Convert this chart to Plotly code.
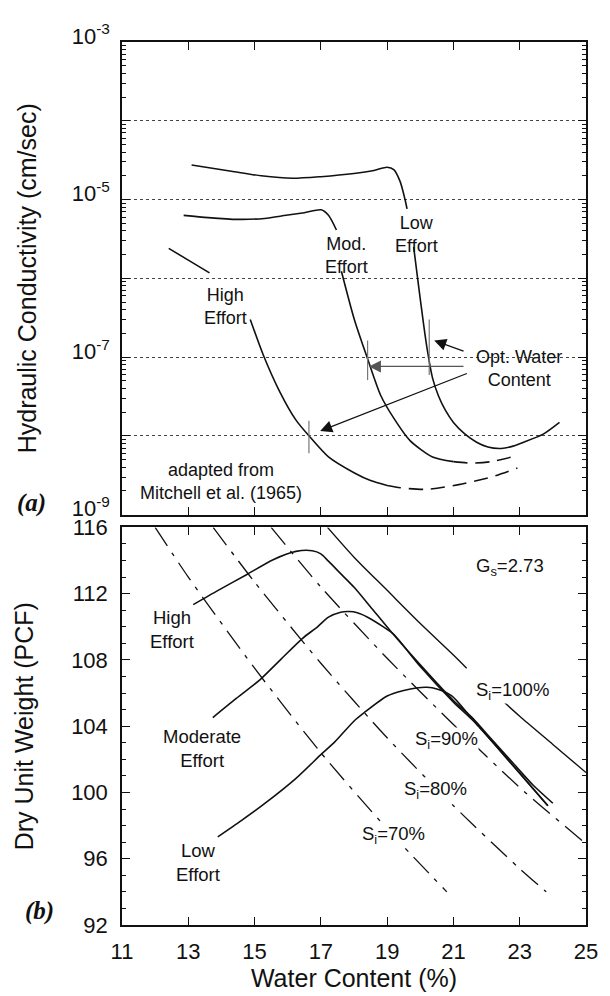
import numpy as np
import plotly.graph_objects as go

# ---------------- (a) Hydraulic conductivity (cm/sec) vs water content (%) ----------------
low_k_w = [13.1, 14.3, 15.2, 16.15, 17.0, 18.0, 18.6, 19.0, 19.2, 19.39, 19.54, 19.6, None,
           19.8, 19.95, 20.1, 20.22, 20.37, 20.55, 20.76, 21.0, 21.35, 21.7, 22.04, 22.44, 22.8,
           23.12, 23.71, 24.2]
low_k = [2.75e-5, 2.29e-5, 2.0e-5, 1.86e-5, 1.95e-5, 2.14e-5, 2.34e-5, 2.57e-5, 2.4e-5, 1.7e-5,
         1.0e-5, 7.6e-6, None,
         2.5e-6, 7.9e-7, 2.6e-7, 1.17e-7, 5.4e-8, 3.2e-8, 2.1e-8, 1.48e-8, 1.05e-8, 8.3e-9,
         7.2e-9, 6.9e-9, 7.4e-9, 8.3e-9, 1.05e-8, 1.48e-8]

mod_k_w = [12.86, 13.6, 14.48, 15.3, 15.95, 16.5, 17.01, 17.23, 17.47, None,
           17.62, 18.01, 18.41, 18.8, 19.19, 19.69, 20.37, 21.0]
mod_k = [6.3e-6, 5.9e-6, 5.6e-6, 5.75e-6, 6.3e-6, 6.8e-6, 7.4e-6, 6.3e-6, 4.1e-6, None,
         1.23e-6, 3.0e-7, 9.5e-8, 3.3e-8, 1.7e-8, 8.7e-9, 5.4e-9, 4.7e-9]
mod_k_w_dash = [21.0, 21.55, 22.14, 22.93]
mod_k_dash = [4.7e-9, 4.5e-9, 4.7e-9, 5.6e-9]

high_k_w = [12.41, 13.0, 13.64, None, 14.87, 15.26, 15.75, 16.25, 16.64, 17.23, 18.0, 18.5, 19.0]
high_k = [2.4e-6, 1.7e-6, 1.17e-6, None, 3.0e-7, 1.07e-7, 3.7e-8, 1.58e-8, 1.0e-8, 5.4e-9,
          3.4e-9, 2.7e-9, 2.34e-9]
high_k_w_dash = [19.0, 19.4, 20.17, 21.16, 22.14, 22.93]
high_k_dash = [2.34e-9, 2.19e-9, 2.09e-9, 2.4e-9, 3.0e-9, 3.9e-9]

# optimum water content markers (low, moderate, high effort)
opt_w = [20.27, 18.41, 16.64]
opt_k_top = [3.0e-7, 1.62e-7, 1.55e-8]
opt_k_bottom = [5.9e-8, 5.1e-8, 6.0e-9]

# arrows from the "Opt. Water Content" label to the markers
arrow_tail_w = [21.35, 21.35, 21.45]
arrow_tail_k = [1.17e-7, 7.6e-8, 6.3e-8]
arrow_tip_w = [20.42, 18.45, 16.98]
arrow_tip_k = [1.62e-7, 7.6e-8, 1.15e-8]

k_tick_vals = [1e-3, 1e-4, 1e-5, 1e-6, 1e-7, 1e-8, 1e-9]
k_tick_text = ["10<sup>-3</sup>", "", "10<sup>-5</sup>", "", "10<sup>-7</sup>", "", "10<sup>-9</sup>"]

top_labels = ["Low<br>Effort", "Mod.<br>Effort", "High<br>Effort", "Opt. Water<br>Content",
              "adapted from<br>Mitchell et al. (1965)"]
top_label_w = [19.9, 17.78, 14.11, 22.97, 14.0]
top_label_k = [3.6e-6, 1.95e-6, 4.4e-7, 7.1e-8, 2.6e-9]

# ---------------- (b) Dry unit weight (PCF) vs water content (%) ----------------
high_w = [13.15, 13.9, 14.77, 15.56, 16.25, 16.74, 17.0, 17.23, 17.62, 18.01, 18.5, 19.1, 20.0,
          21.0, 21.55, 22.2, 22.83, 23.4, 24.0]
high_g = [111.34, 112.2, 113.16, 114.05, 114.55, 114.59, 114.4, 113.96, 113.16, 112.37, 111.2,
          109.75, 107.7, 105.55, 104.55, 103.1, 101.7, 100.45, 99.35]

mod_w = [13.74, 14.4, 15.16, 15.8, 16.44, 16.9, 17.23, 17.6, 17.85, 18.1, 18.41, 18.9, 19.2, 20.0,
         21.0, 21.55, 22.2, 22.83, 23.85]
mod_g = [104.52, 105.6, 106.8, 108.05, 109.29, 110.0, 110.58, 110.88, 110.92, 110.85, 110.58,
         109.98, 109.55, 107.6, 105.45, 104.42, 103.0, 101.55, 99.2]

low_w = [13.89, 14.6, 15.26, 16.25, 17.03, 17.42, 18.01, 18.31, 19.0, 19.5, 19.88, 20.2, 20.5,
         20.96, 21.45, 22.2, 22.83, 23.85]
low_g = [97.32, 98.3, 99.26, 100.85, 102.34, 103.05, 104.33, 104.82, 105.82, 106.15, 106.31, 106.35,
         106.25, 105.82, 104.72, 103.0, 101.55, 99.2]

s100_w = [17.2, 18.0, 19.0, 20.0, 21.0, 21.4, None, 22.5, 23.0, 24.0, 25.0]
s100_g = [116.0, 114.2, 112.2, 110.2, 108.3, 107.5, None, 105.5, 104.6, 102.9, 101.2]
s90_w = [15.5, 17.0, 19.0, 21.0, 23.0, 25.0]
s90_g = [116.0, 112.4, 108.1, 104.1, 100.3, 96.9]
s80_w = [13.75, 15.0, 17.0, 19.0, 21.0, 23.0, 23.8]
s80_g = [116.0, 112.7, 107.8, 103.3, 99.2, 95.4, 94.0]
s70_w = [12.0, 13.0, 15.0, 17.0, 19.0, 20.8]
s70_g = [116.0, 113.0, 107.5, 102.4, 97.8, 94.0]

bottom_labels = ["High<br>Effort", "Moderate<br>Effort", "Low<br>Effort", "G<sub>s</sub>=2.73",
                 "S<sub>i</sub>=100%", "S<sub>i</sub>=90%", "S<sub>i</sub>=80%", "S<sub>i</sub>=70%"]
bottom_label_w = [12.5, 13.42, 13.3, 22.7, 22.77, 20.8, 20.45, 19.2]
bottom_label_g = [109.85, 102.68, 95.76, 113.6, 106.15, 103.15, 100.15, 97.45]

w_ticks = [11, 13, 15, 17, 19, 21, 23, 25]
g_ticks = [92, 96, 100, 104, 108, 112, 116]

# ---------------------------------------------------------------------------------
FONT = "Liberation Sans, Arial, Helvetica, sans-serif"
SERIF = "Liberation Serif, DejaVu Serif, serif"
INK = "#111111"

fig = go.Figure()


def line(x, y, ax, width=1.6, dash="solid", color=INK, smooth=True):
    xa, ya = ("x2", "y2") if ax == "top" else ("x", "y")
    ln = dict(color=color, width=width, dash=dash)
    if smooth:
        ln.update(shape="spline", smoothing=0.7)
    fig.add_trace(go.Scatter(x=x, y=y, xaxis=xa, yaxis=ya, mode="lines", connectgaps=False,
                             line=ln, showlegend=False, hoverinfo="skip"))


# (a)
line(low_k_w, low_k, "top")
line(mod_k_w, mod_k, "top")
line(mod_k_w_dash, mod_k_dash, "top", dash="14px,8px")
line(high_k_w, high_k, "top")
line(high_k_w_dash, high_k_dash, "top", dash="14px,8px")

mx, my = [], []
for w, a, b in zip(opt_w, opt_k_top, opt_k_bottom):
    mx += [w, w, None]
    my += [a, b, None]
line(mx, my, "top", width=1.2, color="#777777", smooth=False)

# (b)
dd = "22px,8px,4px,8px"
line(s90_w, s90_g, "bottom", width=1.3, dash=dd)
line(s80_w, s80_g, "bottom", width=1.3, dash=dd)
line(s70_w, s70_g, "bottom", width=1.3, dash=dd)
line(s100_w, s100_g, "bottom", width=1.4)
line(high_w, high_g, "bottom")
line(mod_w, mod_g, "bottom")
line(low_w, low_g, "bottom")

annotations = []
for t, w, k in zip(top_labels, top_label_w, top_label_k):
    annotations.append(dict(x=w, y=float(np.log10(k)), xref="x2", yref="y2", text=t,
                            showarrow=False, font=dict(family=FONT, size=18, color=INK)))
for tw, tk, hw, hk, c in zip(arrow_tail_w, arrow_tail_k, arrow_tip_w, arrow_tip_k,
                             [INK, "#555555", INK]):
    annotations.append(dict(x=hw, y=float(np.log10(hk)), ax=tw, ay=float(np.log10(tk)),
                            xref="x2", yref="y2", axref="x2", ayref="y2", text="",
                            showarrow=True, arrowhead=2, arrowsize=2, arrowwidth=1.2,
                            arrowcolor=c, standoff=0))
for t, w, g in zip(bottom_labels, bottom_label_w, bottom_label_g):
    bg = "white" if t.startswith("S<sub>") else "rgba(0,0,0,0)"
    annotations.append(dict(x=w, y=g, xref="x", yref="y", text=t, showarrow=False,
                            bgcolor=bg, borderpad=0,
                            font=dict(family=FONT, size=18.5, color=INK)))
annotations.append(dict(x=-0.195, y=0.478, xref="paper", yref="paper", text="<b><i>(a)</i></b>",
                        xanchor="center", yanchor="middle", showarrow=False,
                        font=dict(family=SERIF, size=25, color=INK)))
annotations.append(dict(x=-0.178, y=0.0156, xref="paper", yref="paper", text="<b><i>(b)</i></b>",
                        xanchor="center", yanchor="middle", showarrow=False,
                        font=dict(family=SERIF, size=25, color=INK)))

axis_common = dict(showline=True, linecolor=INK, linewidth=1.5, mirror="allticks",
                   ticks="inside", ticklen=8, tickwidth=1.2, tickcolor=INK,
                   tickfont=dict(family=FONT, size=22, color=INK), zeroline=False, showgrid=False)

minor_k = [m * 10.0 ** e for e in range(-9, -3) for m in range(2, 10)]

# the page body adds an 8px offset, so the figure is 8px smaller with 8px less margin on top/left
fig.update_layout(
    width=602, height=988,
    margin=dict(l=114, r=13, t=24, b=69),
    paper_bgcolor="white", plot_bgcolor="white",
    showlegend=False,
    font=dict(family=FONT, color=INK),
    xaxis=dict(axis_common, domain=[0, 1], anchor="y", range=[11, 25], tickmode="array",
               tickvals=w_ticks, ticklabelstandoff=6,
               title=dict(text="Water Content (%)", font=dict(family=FONT, size=25, color=INK),
                          standoff=2)),
    yaxis=dict(axis_common, domain=[0, 0.4503], anchor="x", range=[92, 116], tickmode="array",
               tickvals=g_ticks, ticklabelstandoff=8,
               minor=dict(tickvals=list(range(92, 117)), ticks="inside", ticklen=4,
                          tickwidth=1, tickcolor=INK),
               title=dict(text="Dry Unit Weight (PCF)", font=dict(family=FONT, size=25, color=INK),
                          standoff=30)),
    xaxis2=dict(axis_common, domain=[0, 1], anchor="y2", range=[11, 25], tickmode="array",
                tickvals=w_ticks, showticklabels=False),
    yaxis2=dict(axis_common, domain=[0.4648, 1], anchor="x2", type="log", range=[-9, -3],
                tickmode="array", tickvals=k_tick_vals, ticktext=k_tick_text,
                ticklabelstandoff=6, ticklabelshift=-6,
                showgrid=True, gridcolor="#444444", gridwidth=1, griddash="dot",
                minor=dict(tickvals=minor_k, ticks="inside", ticklen=4, tickwidth=1,
                           tickcolor=INK, showgrid=False),
                title=dict(text="Hydraulic Conductivity (cm/sec)",
                           font=dict(family=FONT, size=25, color=INK), standoff=28)),
    annotations=annotations,
)

fig.write_html("out.html")
